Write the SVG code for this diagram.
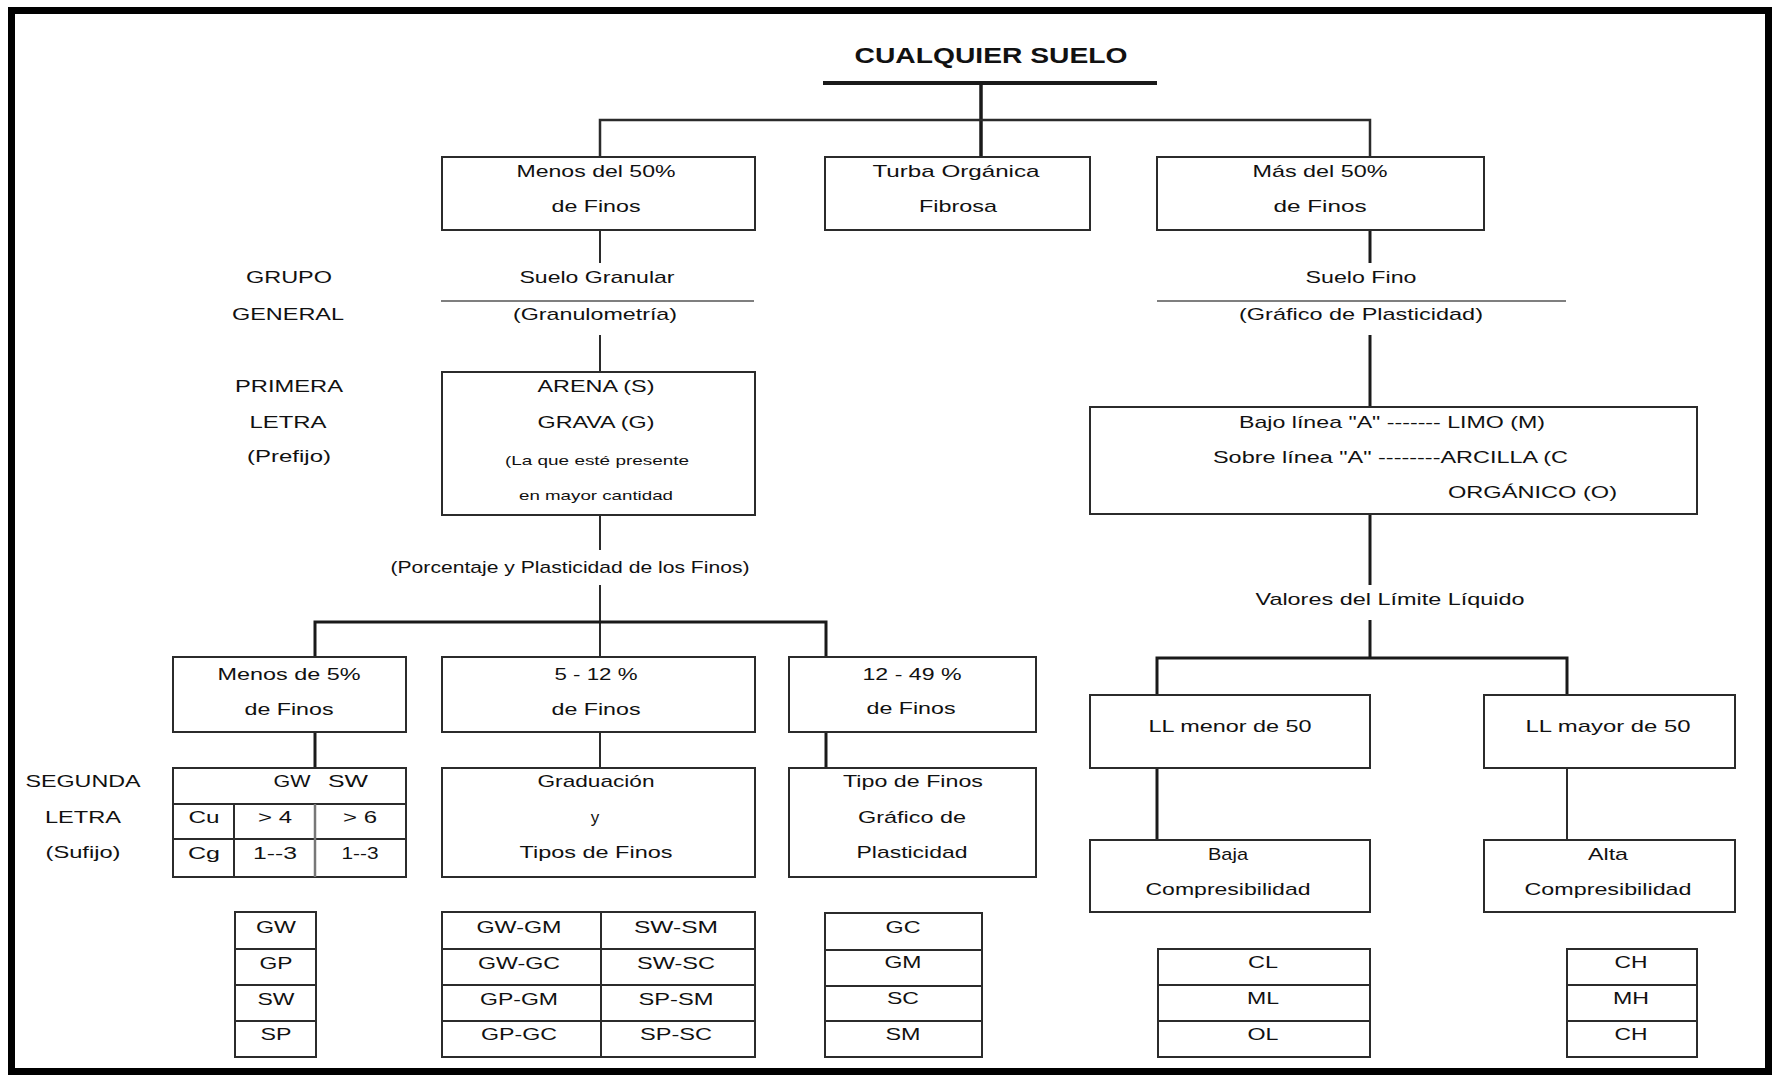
<svg xmlns="http://www.w3.org/2000/svg" width="1776" height="1077" viewBox="0 0 1776 1077">
<style>
.bx{fill:#fff;stroke:#2b2b2b;stroke-width:2}
.ln{stroke:#2b2b2b;stroke-width:2;fill:none}
.th{stroke:#1a1a1a;stroke-width:3;fill:none}
.rl{stroke:#555;stroke-width:1.5;fill:none}
text{font-family:"Liberation Sans",Arial,sans-serif;font-size:17px;fill:#111;text-anchor:middle}
.sm{font-size:13px}
.st{text-anchor:start}
.tt{font-weight:bold;font-size:22px}
</style>
<rect width="1776" height="1077" fill="#fff"/>
<rect x="11.5" y="10.5" width="1757" height="1061" fill="none" stroke="#000" stroke-width="7"/>

<g id="connectors">
<line class="th" x1="823" y1="83" x2="1157" y2="83" style="stroke-width:4"/>
<line class="th" x1="981" y1="83" x2="981" y2="157" style="stroke-width:3.5"/>
<polyline class="ln" points="600,157 600,120 1370,120 1370,157" style="stroke-width:2.5"/>
<line class="ln" x1="600" y1="230" x2="600" y2="263"/>
<line class="ln" x1="600" y1="335" x2="600" y2="372"/>
<line class="th" x1="1370" y1="230" x2="1370" y2="263"/>
<line class="th" x1="1370" y1="335" x2="1370" y2="407"/>
<line class="rl" x1="441" y1="301" x2="754" y2="301"/>
<line class="rl" x1="1157" y1="301" x2="1566" y2="301"/>
<line class="ln" x1="600" y1="515" x2="600" y2="550"/>
<line class="ln" x1="600" y1="585" x2="600" y2="657"/>
<polyline class="th" points="315,657 315,622 826,622 826,657"/>
<line class="th" x1="315" y1="732" x2="315" y2="768"/>
<line class="ln" x1="600" y1="732" x2="600" y2="768"/>
<line class="th" x1="826" y1="732" x2="826" y2="768"/>
<line class="th" x1="1370" y1="514" x2="1370" y2="585"/>
<line class="th" x1="1370" y1="620" x2="1370" y2="658"/>
<polyline class="th" points="1157,695 1157,658 1567,658 1567,695"/>
<line class="th" x1="1157" y1="768" x2="1157" y2="840"/>
<line class="ln" x1="1567" y1="768" x2="1567" y2="840"/>
</g>

<g id="title">
<text class="tt" x="991" y="63" textLength="273" lengthAdjust="spacingAndGlyphs">CUALQUIER SUELO</text>
</g>

<g id="menos50">
<rect class="bx" x="442" y="157" width="313" height="73"/>
<text x="596" y="177" textLength="159" lengthAdjust="spacingAndGlyphs">Menos del 50%</text>
<text x="596" y="212" textLength="89" lengthAdjust="spacingAndGlyphs">de Finos</text>
</g>
<g id="turba">
<rect class="bx" x="825" y="157" width="265" height="73"/>
<text x="956" y="177" textLength="167" lengthAdjust="spacingAndGlyphs">Turba Orgánica</text>
<text x="958" y="212" textLength="78" lengthAdjust="spacingAndGlyphs">Fibrosa</text>
</g>
<g id="mas50">
<rect class="bx" x="1157" y="157" width="327" height="73"/>
<text x="1320" y="177" textLength="135" lengthAdjust="spacingAndGlyphs">Más del 50%</text>
<text x="1320" y="212" textLength="93" lengthAdjust="spacingAndGlyphs">de Finos</text>
</g>

<g id="labels-left">
<text x="289" y="283" textLength="86" lengthAdjust="spacingAndGlyphs">GRUPO</text>
<text x="288" y="320" textLength="112" lengthAdjust="spacingAndGlyphs">GENERAL</text>
<text x="289" y="392" textLength="108" lengthAdjust="spacingAndGlyphs">PRIMERA</text>
<text x="288" y="428" textLength="77" lengthAdjust="spacingAndGlyphs">LETRA</text>
<text x="289" y="462" textLength="84" lengthAdjust="spacingAndGlyphs">(Prefijo)</text>
<text x="83" y="787" textLength="115" lengthAdjust="spacingAndGlyphs">SEGUNDA</text>
<text x="83" y="823" textLength="76" lengthAdjust="spacingAndGlyphs">LETRA</text>
<text x="83" y="858" textLength="75" lengthAdjust="spacingAndGlyphs">(Sufijo)</text>
</g>

<g id="suelo-granular">
<text x="597" y="283" textLength="155" lengthAdjust="spacingAndGlyphs">Suelo Granular</text>
<text x="595" y="320" textLength="164" lengthAdjust="spacingAndGlyphs">(Granulometría)</text>
</g>
<g id="suelo-fino">
<text x="1361" y="283" textLength="111" lengthAdjust="spacingAndGlyphs">Suelo Fino</text>
<text x="1361" y="320" textLength="244" lengthAdjust="spacingAndGlyphs">(Gráfico de Plasticidad)</text>
</g>

<g id="arena">
<rect class="bx" x="442" y="372" width="313" height="143"/>
<text x="596" y="392" textLength="117" lengthAdjust="spacingAndGlyphs">ARENA (S)</text>
<text x="596" y="428" textLength="117" lengthAdjust="spacingAndGlyphs">GRAVA (G)</text>
<text class="sm" x="597" y="465" textLength="184" lengthAdjust="spacingAndGlyphs">(La que esté presente</text>
<text class="sm" x="596" y="500" textLength="154" lengthAdjust="spacingAndGlyphs">en mayor cantidad</text>
</g>

<g id="bajo-linea">
<rect class="bx" x="1090" y="407" width="607" height="107"/>
<text class="st" x="1239" y="428" textLength="306" lengthAdjust="spacingAndGlyphs">Bajo línea "A" ------- LIMO (M)</text>
<text class="st" x="1213" y="463" textLength="355" lengthAdjust="spacingAndGlyphs">Sobre línea "A" --------ARCILLA (C</text>
<text class="st" x="1448" y="498" textLength="169" lengthAdjust="spacingAndGlyphs">ORGÁNICO (O)</text>
</g>

<g id="porcentaje">
<text x="570" y="573" textLength="359" lengthAdjust="spacingAndGlyphs">(Porcentaje y Plasticidad de los Finos)</text>
</g>
<g id="valores">
<text x="1390" y="605" textLength="269" lengthAdjust="spacingAndGlyphs">Valores del Límite Líquido</text>
</g>

<g id="menos5">
<rect class="bx" x="173" y="657" width="233" height="75"/>
<text x="289" y="680" textLength="143" lengthAdjust="spacingAndGlyphs">Menos de 5%</text>
<text x="289" y="715" textLength="89" lengthAdjust="spacingAndGlyphs">de Finos</text>
</g>
<g id="p5-12">
<rect class="bx" x="442" y="657" width="313" height="75"/>
<text x="596" y="680" textLength="83" lengthAdjust="spacingAndGlyphs">5 - 12 %</text>
<text x="596" y="715" textLength="89" lengthAdjust="spacingAndGlyphs">de Finos</text>
</g>
<g id="p12-49">
<rect class="bx" x="789" y="657" width="247" height="75"/>
<text x="912" y="680" textLength="99" lengthAdjust="spacingAndGlyphs">12 - 49 %</text>
<text x="911" y="714" textLength="89" lengthAdjust="spacingAndGlyphs">de Finos</text>
</g>
<g id="ll-menor">
<rect class="bx" x="1090" y="695" width="280" height="73"/>
<text x="1230" y="732" textLength="163" lengthAdjust="spacingAndGlyphs">LL menor de 50</text>
</g>
<g id="ll-mayor">
<rect class="bx" x="1484" y="695" width="251" height="73"/>
<text x="1608" y="732" textLength="165" lengthAdjust="spacingAndGlyphs">LL mayor de 50</text>
</g>

<g id="tabla-cu-cg">
<rect class="bx" x="173" y="768" width="233" height="109"/>
<line class="ln" x1="173" y1="804" x2="406" y2="804"/>
<line class="ln" x1="173" y1="839" x2="406" y2="839"/>
<line class="ln" x1="234" y1="804" x2="234" y2="877"/>
<line class="ln" x1="315" y1="804" x2="315" y2="877" style="stroke:#777;stroke-width:2.5"/>
<text x="292" y="787" textLength="37" lengthAdjust="spacingAndGlyphs">GW</text>
<text x="348" y="787" textLength="40" lengthAdjust="spacingAndGlyphs">SW</text>
<text x="204" y="823" textLength="31" lengthAdjust="spacingAndGlyphs">Cu</text>
<text x="275" y="823" textLength="34" lengthAdjust="spacingAndGlyphs">&gt; 4</text>
<text x="360" y="823" textLength="34" lengthAdjust="spacingAndGlyphs">&gt; 6</text>
<text x="204" y="859" textLength="32" lengthAdjust="spacingAndGlyphs">Cg</text>
<text x="275" y="859" textLength="44" lengthAdjust="spacingAndGlyphs">1--3</text>
<text x="360" y="859" textLength="37" lengthAdjust="spacingAndGlyphs">1--3</text>
</g>
<g id="graduacion">
<rect class="bx" x="442" y="768" width="313" height="109"/>
<text x="596" y="787" textLength="117" lengthAdjust="spacingAndGlyphs">Graduación</text>
<text x="595" y="823">y</text>
<text x="596" y="858" textLength="153" lengthAdjust="spacingAndGlyphs">Tipos de Finos</text>
</g>
<g id="tipo-finos">
<rect class="bx" x="789" y="768" width="247" height="109"/>
<text x="913" y="787" textLength="140" lengthAdjust="spacingAndGlyphs">Tipo de Finos</text>
<text x="912" y="823" textLength="108" lengthAdjust="spacingAndGlyphs">Gráfico de</text>
<text x="912" y="858" textLength="111" lengthAdjust="spacingAndGlyphs">Plasticidad</text>
</g>
<g id="baja">
<rect class="bx" x="1090" y="840" width="280" height="72"/>
<text x="1228" y="860" textLength="40" lengthAdjust="spacingAndGlyphs">Baja</text>
<text x="1228" y="895" textLength="165" lengthAdjust="spacingAndGlyphs">Compresibilidad</text>
</g>
<g id="alta">
<rect class="bx" x="1484" y="840" width="251" height="72"/>
<text x="1608" y="860" textLength="40" lengthAdjust="spacingAndGlyphs">Alta</text>
<text x="1608" y="895" textLength="167" lengthAdjust="spacingAndGlyphs">Compresibilidad</text>
</g>

<g id="tabla-gw">
<rect class="bx" x="235" y="912" width="81" height="145"/>
<line class="ln" x1="235" y1="949" x2="316" y2="949"/>
<line class="ln" x1="235" y1="985" x2="316" y2="985"/>
<line class="ln" x1="235" y1="1021" x2="316" y2="1021"/>
<text x="276" y="933" textLength="40" lengthAdjust="spacingAndGlyphs">GW</text>
<text x="276" y="969" textLength="33" lengthAdjust="spacingAndGlyphs">GP</text>
<text x="276" y="1005" textLength="37" lengthAdjust="spacingAndGlyphs">SW</text>
<text x="276" y="1040" textLength="31" lengthAdjust="spacingAndGlyphs">SP</text>
</g>
<g id="tabla-dual">
<rect class="bx" x="442" y="912" width="313" height="145"/>
<line class="ln" x1="442" y1="949" x2="755" y2="949"/>
<line class="ln" x1="442" y1="985" x2="755" y2="985"/>
<line class="ln" x1="442" y1="1021" x2="755" y2="1021"/>
<line class="ln" x1="601" y1="912" x2="601" y2="1057"/>
<text x="519" y="933" textLength="85" lengthAdjust="spacingAndGlyphs">GW-GM</text>
<text x="519" y="969" textLength="82" lengthAdjust="spacingAndGlyphs">GW-GC</text>
<text x="519" y="1005" textLength="78" lengthAdjust="spacingAndGlyphs">GP-GM</text>
<text x="519" y="1040" textLength="76" lengthAdjust="spacingAndGlyphs">GP-GC</text>
<text x="676" y="933" textLength="84" lengthAdjust="spacingAndGlyphs">SW-SM</text>
<text x="676" y="969" textLength="78" lengthAdjust="spacingAndGlyphs">SW-SC</text>
<text x="676" y="1005" textLength="75" lengthAdjust="spacingAndGlyphs">SP-SM</text>
<text x="676" y="1040" textLength="72" lengthAdjust="spacingAndGlyphs">SP-SC</text>
</g>
<g id="tabla-gc">
<rect class="bx" x="825" y="913" width="157" height="144"/>
<line class="ln" x1="825" y1="950" x2="982" y2="950"/>
<line class="ln" x1="825" y1="986" x2="982" y2="986"/>
<line class="ln" x1="825" y1="1021" x2="982" y2="1021"/>
<text x="903" y="933" textLength="35" lengthAdjust="spacingAndGlyphs">GC</text>
<text x="903" y="968" textLength="37" lengthAdjust="spacingAndGlyphs">GM</text>
<text x="903" y="1004" textLength="32" lengthAdjust="spacingAndGlyphs">SC</text>
<text x="903" y="1040" textLength="35" lengthAdjust="spacingAndGlyphs">SM</text>
</g>
<g id="tabla-cl">
<rect class="bx" x="1158" y="949" width="212" height="108"/>
<line class="ln" x1="1158" y1="985" x2="1370" y2="985"/>
<line class="ln" x1="1158" y1="1021" x2="1370" y2="1021"/>
<text x="1263" y="968" textLength="30" lengthAdjust="spacingAndGlyphs">CL</text>
<text x="1263" y="1004" textLength="32" lengthAdjust="spacingAndGlyphs">ML</text>
<text x="1263" y="1040" textLength="31" lengthAdjust="spacingAndGlyphs">OL</text>
</g>
<g id="tabla-ch">
<rect class="bx" x="1567" y="949" width="130" height="108"/>
<line class="ln" x1="1567" y1="985" x2="1697" y2="985"/>
<line class="ln" x1="1567" y1="1021" x2="1697" y2="1021"/>
<text x="1631" y="968" textLength="33" lengthAdjust="spacingAndGlyphs">CH</text>
<text x="1631" y="1004" textLength="36" lengthAdjust="spacingAndGlyphs">MH</text>
<text x="1631" y="1040" textLength="33" lengthAdjust="spacingAndGlyphs">CH</text>
</g>
</svg>
